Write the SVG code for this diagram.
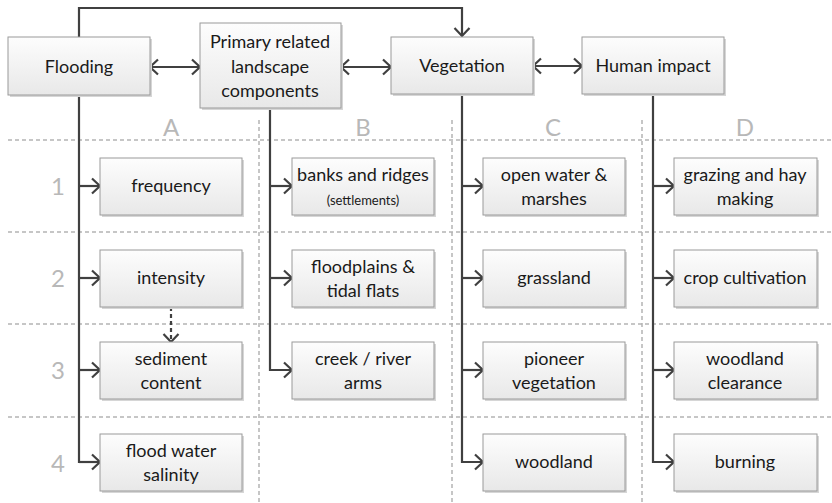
<svg xmlns="http://www.w3.org/2000/svg" width="832" height="503" viewBox="0 0 832 503">
<defs>
<linearGradient id="g" x1="0" y1="0" x2="0" y2="1">
<stop offset="0" stop-color="#fdfdfd"/>
<stop offset="1" stop-color="#e8e8e8"/>
</linearGradient>
<marker id="ah" markerUnits="userSpaceOnUse" markerWidth="14" markerHeight="18" refX="10" refY="9" orient="auto-start-reverse">
<path d="M2,1.5 L10,9 L2,16.5" fill="none" stroke="#404040" stroke-width="2.2"/>
</marker>
<style>
.box{fill:url(#g);stroke:#9a9a9a;stroke-width:1}
.sh{fill:#d6d6d6}
.t{font-family:Lato,"Open Sans",sans-serif;font-size:18px;fill:#1a1a1a;text-anchor:middle}
.s{font-size:13px}
.lab{font-family:Lato,"Open Sans",sans-serif;font-size:24px;fill:#b8b8b8;text-anchor:middle}
.grid{fill:none;stroke:#b4b4b4;stroke-width:1.5;stroke-dasharray:4 3}
.c{fill:none;stroke:#404040;stroke-width:2.2}
</style>
</defs>
<g id="grid">
<path class="grid" d="M8,140 H832 M8,232 H832 M8,324 H832 M8,417 H832"/>
<path class="grid" d="M259,120 V503 M452,120 V503 M642,120 V503"/>
</g>
<g id="labels">
<text class="lab" x="171" y="136">A</text>
<text class="lab" x="363" y="136">B</text>
<text class="lab" x="553" y="136">C</text>
<text class="lab" x="745" y="136">D</text>
<text class="lab" x="58" y="195">1</text>
<text class="lab" x="58" y="287">2</text>
<text class="lab" x="58" y="379">3</text>
<text class="lab" x="58" y="472">4</text>
</g>
<g id="connectors">
<path class="c" d="M79,37 V8 H462 V36" marker-end="url(#ah)"/>
<path class="c" d="M150,67 H200" marker-start="url(#ah)" marker-end="url(#ah)"/>
<path class="c" d="M341,67 H391" marker-start="url(#ah)" marker-end="url(#ah)"/>
<path class="c" d="M533,66 H582" marker-start="url(#ah)" marker-end="url(#ah)"/>
<path class="c" d="M79,96 V462 H100"/>
<path class="c" d="M79,186 H100" marker-end="url(#ah)"/>
<path class="c" d="M79,278 H100" marker-end="url(#ah)"/>
<path class="c" d="M79,370 H100" marker-end="url(#ah)"/>
<path class="c" d="M79,462 H100" marker-end="url(#ah)"/>
<path class="c" d="M270,108 V370 H292" marker-end="url(#ah)"/>
<path class="c" d="M270,186 H292" marker-end="url(#ah)"/>
<path class="c" d="M270,278 H292" marker-end="url(#ah)"/>
<path class="c" d="M462,95 V462 H483" marker-end="url(#ah)"/>
<path class="c" d="M462,186 H483" marker-end="url(#ah)"/>
<path class="c" d="M462,278 H483" marker-end="url(#ah)"/>
<path class="c" d="M462,370 H483" marker-end="url(#ah)"/>
<path class="c" d="M653,95 V462 H674" marker-end="url(#ah)"/>
<path class="c" d="M653,186 H674" marker-end="url(#ah)"/>
<path class="c" d="M653,278 H674" marker-end="url(#ah)"/>
<path class="c" d="M653,370 H674" marker-end="url(#ah)"/>
<path class="c" d="M171,307 V342" stroke-dasharray="4 3" marker-end="url(#ah)"/>
</g>
<g id="flooding"><rect class="sh" x="10" y="39" width="142" height="58"/><rect class="box" x="8" y="37" width="142" height="58"/><text class="t" x="79" y="73">Flooding</text></g>
<g id="primary"><rect class="sh" x="202" y="25" width="141" height="85"/><rect class="box" x="200" y="23" width="141" height="85"/><text class="t" x="270" y="48">Primary related</text><text class="t" x="270" y="73">landscape</text><text class="t" x="270" y="97">components</text></g>
<g id="vegetation"><rect class="sh" x="393" y="39" width="142" height="57"/><rect class="box" x="391" y="37" width="142" height="57"/><text class="t" x="462" y="72">Vegetation</text></g>
<g id="human"><rect class="sh" x="584" y="39" width="142" height="57"/><rect class="box" x="582" y="37" width="142" height="57"/><text class="t" x="653" y="72">Human impact</text></g>

<g id="a1"><rect class="sh" x="102" y="160" width="142" height="57"/><rect class="box" x="100" y="158" width="142" height="57"/><text class="t" x="171" y="192">frequency</text></g>
<g id="a2"><rect class="sh" x="102" y="252" width="142" height="57"/><rect class="box" x="100" y="250" width="142" height="57"/><text class="t" x="171" y="284">intensity</text></g>
<g id="a3"><rect class="sh" x="102" y="344" width="142" height="57"/><rect class="box" x="100" y="342" width="142" height="57"/><text class="t" x="171" y="365">sediment</text><text class="t" x="171" y="389">content</text></g>
<g id="a4"><rect class="sh" x="102" y="436" width="142" height="57"/><rect class="box" x="100" y="434" width="142" height="57"/><text class="t" x="171" y="457">flood water</text><text class="t" x="171" y="481">salinity</text></g>

<g id="b1"><rect class="sh" x="294" y="160" width="142" height="57"/><rect class="box" x="292" y="158" width="142" height="57"/><text class="t" x="363" y="181">banks and ridges</text><text class="t s" x="363" y="205">(settlements)</text></g>
<g id="b2"><rect class="sh" x="294" y="252" width="142" height="57"/><rect class="box" x="292" y="250" width="142" height="57"/><text class="t" x="363" y="273">floodplains &amp;</text><text class="t" x="363" y="297">tidal flats</text></g>
<g id="b3"><rect class="sh" x="294" y="344" width="142" height="57"/><rect class="box" x="292" y="342" width="142" height="57"/><text class="t" x="363" y="365">creek / river</text><text class="t" x="363" y="389">arms</text></g>

<g id="c1"><rect class="sh" x="485" y="160" width="142" height="57"/><rect class="box" x="483" y="158" width="142" height="57"/><text class="t" x="554" y="181">open water &amp;</text><text class="t" x="554" y="205">marshes</text></g>
<g id="c2"><rect class="sh" x="485" y="252" width="142" height="57"/><rect class="box" x="483" y="250" width="142" height="57"/><text class="t" x="554" y="284">grassland</text></g>
<g id="c3"><rect class="sh" x="485" y="344" width="142" height="57"/><rect class="box" x="483" y="342" width="142" height="57"/><text class="t" x="554" y="365">pioneer</text><text class="t" x="554" y="389">vegetation</text></g>
<g id="c4"><rect class="sh" x="485" y="436" width="142" height="57"/><rect class="box" x="483" y="434" width="142" height="57"/><text class="t" x="554" y="468">woodland</text></g>

<g id="d1"><rect class="sh" x="676" y="160" width="143" height="57"/><rect class="box" x="674" y="158" width="143" height="57"/><text class="t" x="745" y="181">grazing and hay</text><text class="t" x="745" y="205">making</text></g>
<g id="d2"><rect class="sh" x="676" y="252" width="143" height="57"/><rect class="box" x="674" y="250" width="143" height="57"/><text class="t" x="745" y="284">crop cultivation</text></g>
<g id="d3"><rect class="sh" x="676" y="344" width="143" height="57"/><rect class="box" x="674" y="342" width="143" height="57"/><text class="t" x="745" y="365">woodland</text><text class="t" x="745" y="389">clearance</text></g>
<g id="d4"><rect class="sh" x="676" y="436" width="143" height="57"/><rect class="box" x="674" y="434" width="143" height="57"/><text class="t" x="745" y="468">burning</text></g>
</svg>
